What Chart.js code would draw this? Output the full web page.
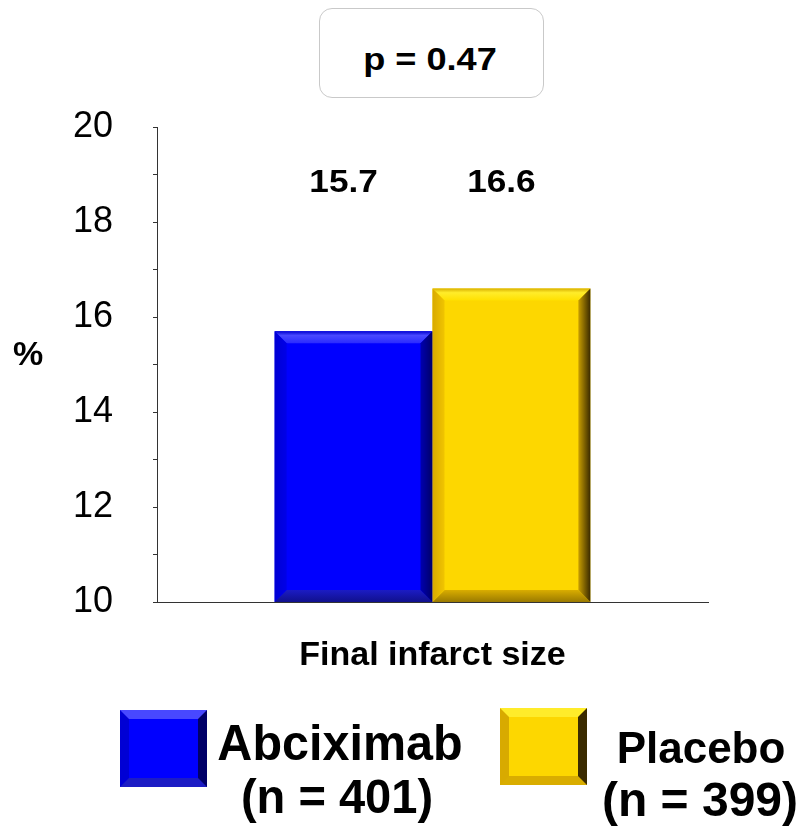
<!DOCTYPE html>
<html>
<head>
<meta charset="utf-8">
<title>Final infarct size</title>
<script src="https://cdn.jsdelivr.net/npm/chart.js@4.4.1/dist/chart.umd.min.js"></script>
<style>
  html, body { margin: 0; padding: 0; background: #fff; }
  #wrap { position: relative; width: 800px; height: 828px; overflow: hidden;
          font-family: "Liberation Sans", Arial, Helvetica, sans-serif; color: #000; }
  #chart { position: absolute; left: 0; top: 0; }
  .txt { position: absolute; white-space: nowrap; font-weight: bold; line-height: 1; }
  #pbox { position: absolute; left: 319px; top: 8px; width: 225px; height: 90px;
          box-sizing: border-box; border: 1.5px solid #c9c9c9; border-radius: 13px; background: #fff; }
  .swatch { position: absolute; box-sizing: border-box; width: 87px; height: 77px; border-style: solid; border-width: 9px; }
</style>
</head>
<body>
<div id="wrap">
  <canvas id="chart" width="800" height="828"></canvas>
  <div id="pbox"></div>
</div>
<script>
// ---- data ----
const categories = ['Final infarct size'];
const seriesNames = ['Abciximab', 'Placebo'];
const seriesCounts = ['(n = 401)', '(n = 399)'];
const abciximabValues = [15.7];
const placeboValues = [16.6];
const yTickLabels = [10, 12, 14, 16, 18, 20];
const pValueText = 'p = 0.47';
const yAxisTitle = '%';

// ---- styles ----
const barColors = ['#0000ff', '#fdd700'];
const bevelColors = [
  { top: ['#0000d0', '#4848ff', '#2a2aff'], right: ['#0000b0', '#000068'], bottom: ['#1c1cc4', '#10108c'], left: ['#0000e8', '#0000d4'] },
  { top: ['#d8b000', '#ffec2a', '#ffe000'], right: ['#c89e00', '#3a2a00'], bottom: ['#d9ad00', '#9a7a00'], left: ['#f0c400', '#d8aa00'] }
];
const BEVEL = 12;

// Draws bevelled edges on each bar so they look like raised blocks.
const bevelPlugin = {
  id: 'bevelBars',
  afterDatasetsDraw(chart) {
    const ctx = chart.ctx;
    const area = chart.chartArea;
    chart.data.datasets.forEach((ds, di) => {
      const meta = chart.getDatasetMeta(di);
      const c = bevelColors[di];
      meta.data.forEach(el => {
        const p = el.getProps(['x', 'y', 'base', 'width'], true);
        const l = p.x - p.width / 2, r = p.x + p.width / 2;
        const t = Math.max(area.top, Math.min(p.y, p.base));
        const b = Math.min(area.bottom, Math.max(p.y, p.base));
        const k = BEVEL;
        const poly = (pts, fill) => {
          ctx.beginPath();
          ctx.moveTo(pts[0][0], pts[0][1]);
          for (let i = 1; i < pts.length; i++) ctx.lineTo(pts[i][0], pts[i][1]);
          ctx.closePath();
          ctx.fillStyle = fill;
          ctx.fill();
        };
        ctx.save();
        ctx.beginPath();
        ctx.rect(area.left, area.top, area.right - area.left, area.bottom - area.top);
        ctx.clip();
        // top
        let g = ctx.createLinearGradient(0, t, 0, t + k);
        g.addColorStop(0, c.top[0]); g.addColorStop(0.35, c.top[1]); g.addColorStop(1, c.top[2]);
        poly([[l, t], [r, t], [r - k, t + k], [l + k, t + k]], g);
        // bottom
        g = ctx.createLinearGradient(0, b - k, 0, b);
        g.addColorStop(0, c.bottom[0]); g.addColorStop(1, c.bottom[1]);
        poly([[l, b], [r, b], [r - k, b - k], [l + k, b - k]], g);
        // left
        g = ctx.createLinearGradient(l, 0, l + k, 0);
        g.addColorStop(0, c.left[1]); g.addColorStop(1, c.left[0]);
        poly([[l, t], [l + k, t + k], [l + k, b - k], [l, b]], g);
        // right
        g = ctx.createLinearGradient(r - k, 0, r, 0);
        g.addColorStop(0, c.right[0]); g.addColorStop(1, c.right[1]);
        poly([[r, t], [r - k, t + k], [r - k, b - k], [r, b]], g);
        ctx.restore();
      });
    });
  }
};

// Writes each bar's value above the plot, aligned with its bar.
const valueLabelPlugin = {
  id: 'valueLabels',
  afterDatasetsDraw(chart) {
    const ctx = chart.ctx;
    const yPix = chart.chartArea.top + 65;
    chart.data.datasets.forEach((ds, di) => {
      const meta = chart.getDatasetMeta(di);
      meta.data.forEach((el, i) => {
        ctx.save();
        ctx.translate(el.x - 10, yPix);
        ctx.scale(1.1, 1);
        ctx.font = 'bold 32px "Liberation Sans", Arial, sans-serif';
        ctx.fillStyle = '#000';
        ctx.textAlign = 'center';
        ctx.textBaseline = 'alphabetic';
        ctx.fillText(ds.data[i].toFixed(1), 0, 0);
        ctx.restore();
      });
    });
  }
};

new Chart(document.getElementById('chart'), {
  type: 'bar',
  data: {
    labels: categories,
    datasets: [
      { label: seriesNames[0], data: abciximabValues, backgroundColor: barColors[0], borderWidth: 0 },
      { label: seriesNames[1], data: placeboValues, backgroundColor: barColors[1], borderWidth: 0 }
    ]
  },
  options: {
    responsive: false,
    animation: false,
    devicePixelRatio: 1,
    layout: { padding: { left: 0, top: 127, right: 92, bottom: 126 } },
    plugins: { legend: { display: false }, tooltip: { enabled: false } },
    datasets: { bar: { barPercentage: 1, categoryPercentage: 0.573 } },
    scales: {
      x: {
        grid: { display: true, drawOnChartArea: false, drawTicks: false },
        border: { display: true, color: '#333', width: 1 },
        ticks: { color: '#000', padding: 33, font: { family: '"Liberation Sans", Arial, sans-serif', size: 34, weight: 'bold' } },
        afterFit: s => { s.height = 100; }
      },
      y: {
        min: 10, max: 20,
        grid: { display: true, drawOnChartArea: false, drawTicks: true, tickLength: 4, color: '#333' },
        border: { display: true, color: '#333', width: 1 },
        ticks: {
          stepSize: 1, autoSkip: false, padding: 40, color: '#000',
          font: { family: '"Liberation Sans", Arial, sans-serif', size: 36 },
          callback: v => (yTickLabels.includes(v) ? String(v) : '')
        },
        afterFit: s => { s.width = 157; }
      }
    }
  },
  plugins: [bevelPlugin, valueLabelPlugin]
});

// ---- text and legend around the chart ----
const wrap = document.getElementById('wrap');
function addText(str, size, cx, baseline, sx, parent) {
  const d = document.createElement('div');
  d.className = 'txt';
  d.textContent = str;
  d.style.fontSize = size + 'px';
  d.style.left = cx + 'px';
  d.style.top = (baseline - 0.8465 * size) + 'px';
  d.style.transform = 'translateX(-50%) scaleX(' + sx + ')';
  (parent || wrap).appendChild(d);
  return d;
}
// p-value box
addText(pValueText, 32, 430, 70, 1.13);
// y axis title
addText(yAxisTitle, 34, 28, 365, 1);
// legend swatches
const swatchPos = [[120, 710], [500, 708]];
seriesNames.forEach((n, i) => {
  const s = document.createElement('div');
  s.className = 'swatch';
  s.style.left = swatchPos[i][0] + 'px';
  s.style.top = swatchPos[i][1] + 'px';
  s.style.background = barColors[i];
  const c = bevelColors[i];
  s.style.borderTopColor = c.top[1];
  s.style.borderRightColor = c.right[1];
  s.style.borderBottomColor = c.bottom[0];
  s.style.borderLeftColor = c.left[1];
  wrap.appendChild(s);
});
// legend labels
addText(seriesNames[0], 50, 340, 760, 0.97);
addText(seriesCounts[0], 48, 337, 814, 0.98);
addText(seriesNames[1], 44, 701, 763, 1);
addText(seriesCounts[1], 48, 700, 817, 1);
</script>
</body>
</html>
